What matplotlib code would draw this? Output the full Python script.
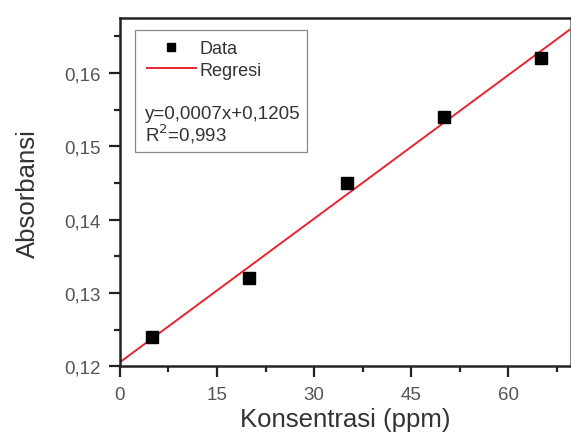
import numpy as np
import matplotlib
matplotlib.use("Agg")
import matplotlib.pyplot as plt
from matplotlib.patches import Rectangle
from matplotlib.ticker import FuncFormatter, MultipleLocator, AutoMinorLocator

plt.rcParams["font.family"] = ["Liberation Sans", "DejaVu Sans"]

# data
konsentrasi = [5, 20, 35, 50, 65]
absorbansi = [0.124, 0.132, 0.145, 0.154, 0.162]
persamaan = "y=0,0007x+0,1205"
r_kuadrat = "R$^2$=0,993"

fig = plt.figure(figsize=(5.71, 4.35), dpi=100)
ax = fig.add_axes([0.210, 0.156, 0.788, 0.800])

# regression line fitted on the data
slope, intercept = np.polyfit(konsentrasi, absorbansi, 1)
xs = np.array([0, 70])
ax.plot(xs, slope * xs + intercept, color="#e8242c", lw=1.4, label="Regresi", zorder=2)
ax.plot(konsentrasi, absorbansi, "s", color="black", ms=8.5, ls="none", label="Data", zorder=3)

ax.set_xlim(0, 69.5)
ax.set_ylim(0.12, 0.1675)
ax.xaxis.set_major_locator(MultipleLocator(15))
ax.xaxis.set_minor_locator(AutoMinorLocator(2))
ax.yaxis.set_major_locator(MultipleLocator(0.01))
ax.yaxis.set_minor_locator(AutoMinorLocator(2))
ax.yaxis.set_major_formatter(FuncFormatter(lambda v, p: f"{v:.2f}".replace(".", ",")))
ax.xaxis.set_major_formatter(FuncFormatter(lambda v, p: f"{v:.0f}"))

ax.tick_params(which="major", direction="out", length=8, width=1.6, labelsize=13.5,
               colors="#222222", labelcolor="#555555", pad=6)
ax.tick_params(which="minor", direction="out", length=4, width=1.6, colors="#222222")
ax.tick_params(top=False, right=False)
for s in ("left", "bottom", "top"):
    ax.spines[s].set_linewidth(1.8)
    ax.spines[s].set_color("#222222")
ax.spines["right"].set_linewidth(0.8)
ax.spines["right"].set_color("#888888")

ax.set_xlabel("Konsentrasi (ppm)", fontsize=18.5, color="#333333", labelpad=3)
ax.set_ylabel("Absorbansi", fontsize=18.5, color="#333333", labelpad=17)

# legend box with equation
ax.add_patch(Rectangle((0.033, 0.615), 0.382, 0.351, transform=ax.transAxes,
                       fill=False, ec="#888888", lw=0.9, zorder=4))
h, l = ax.get_legend_handles_labels()
leg = ax.legend(h[::-1], l[::-1], loc="upper left", bbox_to_anchor=(0.06, 0.937),
                frameon=False, fontsize=13, handlelength=2.7, handletextpad=0.2,
                labelspacing=0.25, borderaxespad=0, borderpad=0, markerscale=0.7)
for t in leg.get_texts():
    t.set_color("#333333")
ax.text(0.056, 0.727, persamaan, transform=ax.transAxes, fontsize=13.5, color="#333333", va="center")
ax.text(0.056, 0.668, r_kuadrat, transform=ax.transAxes, fontsize=13.5, color="#333333", va="center")

fig.savefig("out.png", dpi=100)
